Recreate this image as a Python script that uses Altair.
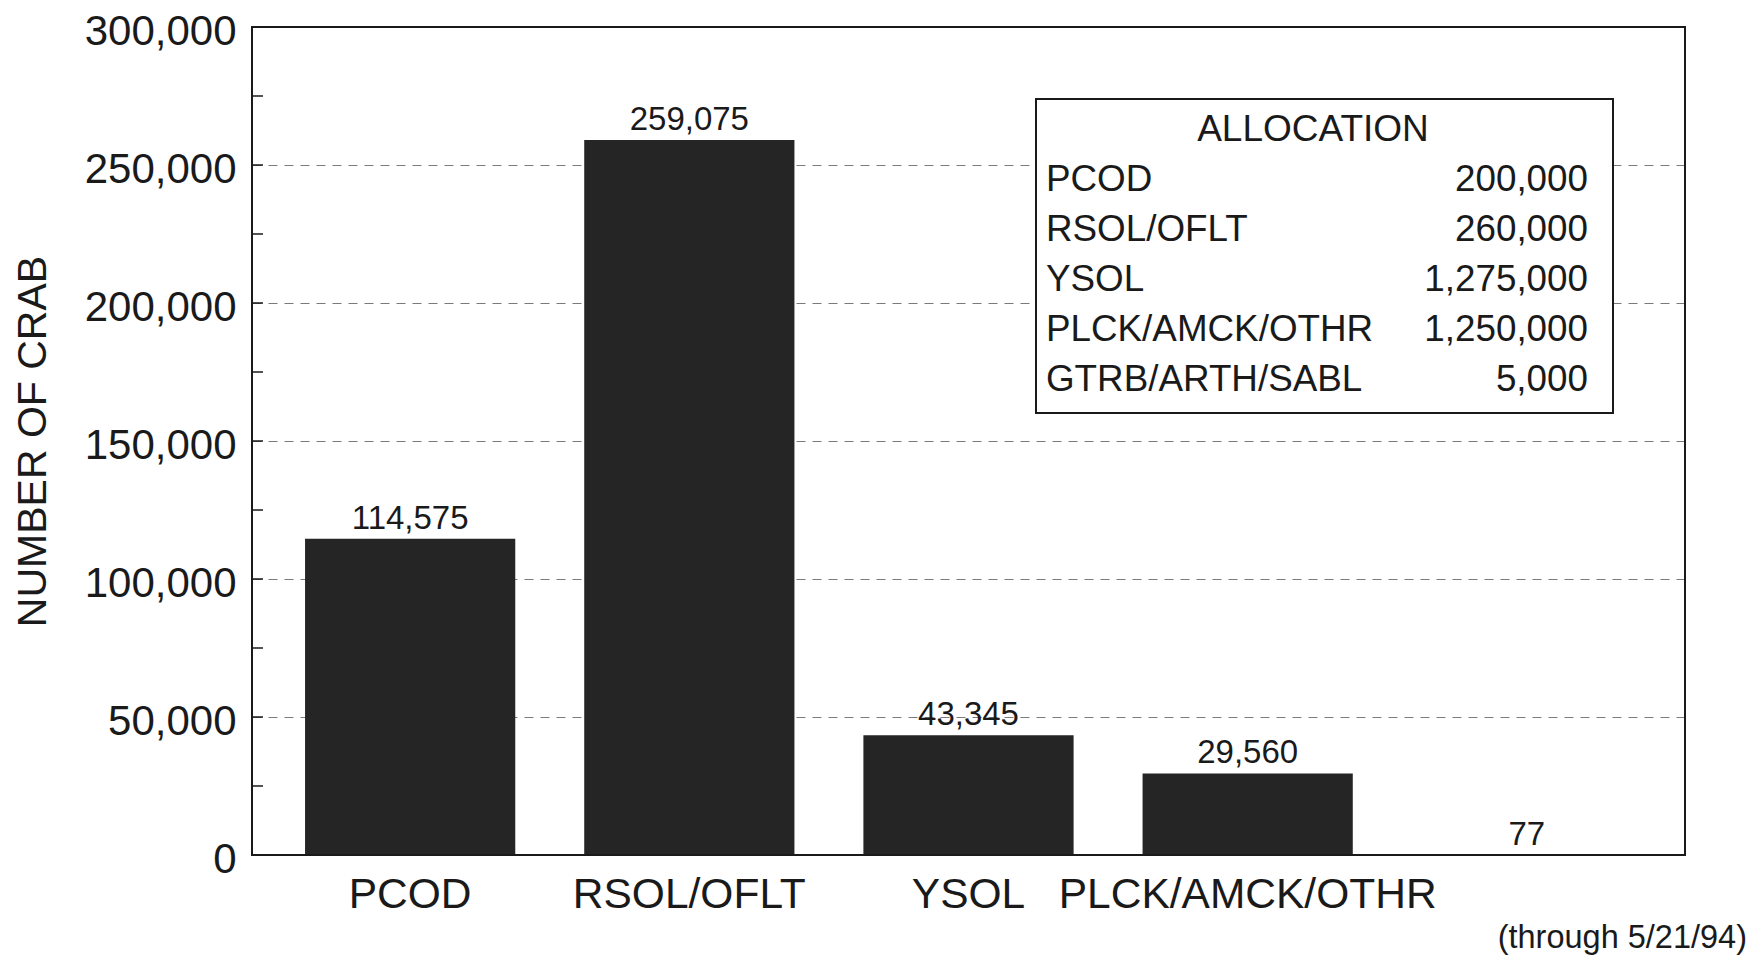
import altair as alt
import pandas as pd

# ---------------- data ----------------
categories = ["PCOD", "RSOL/OFLT", "YSOL", "PLCK/AMCK/OTHR", "GTRB/ARTH/SABL"]
crab_counts = [114575, 259075, 43345, 29560, 77]

alloc_labels = ["PCOD", "RSOL/OFLT", "YSOL", "PLCK/AMCK/OTHR", "GTRB/ARTH/SABL"]
alloc_values = [200000, 260000, 1275000, 1250000, 5000]
alloc_title = "ALLOCATION"

y_tick_values = [0, 50000, 100000, 150000, 200000, 250000, 300000]
minor_tick_values = [25000, 50000, 75000, 100000, 125000, 150000, 175000,
                     200000, 225000, 250000, 275000]
footnote = "(through 5/21/94)"

# ---------------- layout / style ----------------
FONT = "Liberation Sans"
INK = "#1a1a1a"
W, H = 1433, 828
PAD_LEFT, PAD_TOP = 244, 19

bars_df = pd.DataFrame({"category": categories, "count": crab_counts,
                        "label": [f"{v:,}" for v in crab_counts]})
ticks_df = pd.DataFrame({"v": minor_tick_values})
leg_df = pd.DataFrame({"name": alloc_labels,
                       "value": [f"{v:,}" for v in alloc_values],
                       "row": list(range(len(alloc_labels)))})
title_df = pd.DataFrame({"t": [alloc_title]})
note_df = pd.DataFrame({"t": [footnote]})

x_axis = alt.Axis(title=None, labelFontSize=42.5, labelFont=FONT, labelColor=INK,
                  labelAngle=0, ticks=False, domain=False, labelPadding=18,
                  labelLimit=600, labelOverlap=False,
                  labelExpr="datum.label == 'GTRB/ARTH/SABL' ? '' : datum.label")
x_scale = alt.Scale(paddingInner=0.247, paddingOuter=0.19)
y_scale = alt.Scale(domain=[0, 300000], nice=False)
y_axis = alt.Axis(values=y_tick_values, format=",d", labelFontSize=42,
                  labelFont=FONT, labelColor=INK, ticks=False, domain=False,
                  labelPadding=16, labelOffset=4, grid=True, gridDash=[9, 7],
                  gridColor="#7a7a7a", gridWidth=1,
                  title="NUMBER OF CRAB", titleFontSize=41, titleFont=FONT,
                  titleFontWeight="normal", titleColor=INK, titlePadding=30)

bars = alt.Chart(bars_df).mark_bar(color="#252525").encode(
    x=alt.X("category:N", sort=categories, scale=x_scale, axis=x_axis),
    y=alt.Y("count:Q", scale=y_scale, axis=y_axis),
)

values = alt.Chart(bars_df).mark_text(
    baseline="bottom", dy=-3, fontSize=33, font=FONT, color=INK
).encode(x=alt.X("category:N", sort=categories, scale=x_scale, axis=x_axis),
         y=alt.Y("count:Q", scale=y_scale, axis=y_axis),
         text="label:N")

minor = alt.Chart(ticks_df).mark_rule(color=INK, strokeWidth=1.5).encode(
    y=alt.Y("v:Q", scale=y_scale, axis=y_axis), x=alt.value(0), x2=alt.value(11)
)

main = alt.layer(bars, minor, values)

# plot frame, legend box and footnote (pixel-positioned annotations)
frame = alt.Chart(title_df).mark_rect(fillOpacity=0, stroke=INK, strokeWidth=2).encode(
    x=alt.value(0), x2=alt.value(W), y=alt.value(0), y2=alt.value(H)
)
box = alt.Chart(title_df).mark_rect(fill="white", stroke=INK, strokeWidth=2).encode(
    x=alt.value(784), x2=alt.value(1361), y=alt.value(72), y2=alt.value(386)
)
leg_title = alt.Chart(title_df).mark_text(
    fontSize=37, font=FONT, color=INK, align="center", baseline="middle"
).encode(x=alt.value(1061), y=alt.value(103), text="t:N")

leg_names = alt.Chart(leg_df).transform_calculate(ypix="153 + datum.row * 50").mark_text(
    fontSize=36.8, font=FONT, color=INK, align="left", baseline="middle"
).encode(x=alt.value(794), y=alt.Y("ypix:Q", scale=None, axis=None), text="name:N")

leg_vals = alt.Chart(leg_df).transform_calculate(ypix="153 + datum.row * 50").mark_text(
    fontSize=36.8, font=FONT, color=INK, align="right", baseline="middle"
).encode(x=alt.value(1336), y=alt.Y("ypix:Q", scale=None, axis=None), text="value:N")

note = alt.Chart(note_df).mark_text(
    fontSize=32.5, font=FONT, color=INK, align="right", baseline="middle"
).encode(x=alt.value(1495), y=alt.value(911), text="t:N")

legend = alt.layer(frame, box, leg_title, leg_names, leg_vals, note)

chart = alt.layer(main, legend).resolve_scale(y="independent").properties(
    width=W, height=H, background="white",
    autosize=alt.AutoSizeParams(type="none"),
    padding={"left": PAD_LEFT, "top": PAD_TOP, "right": 70, "bottom": 108},
).configure_view(stroke=INK, strokeWidth=2)

chart.save("out.html", embed_options={"renderer": "svg", "actions": False})
